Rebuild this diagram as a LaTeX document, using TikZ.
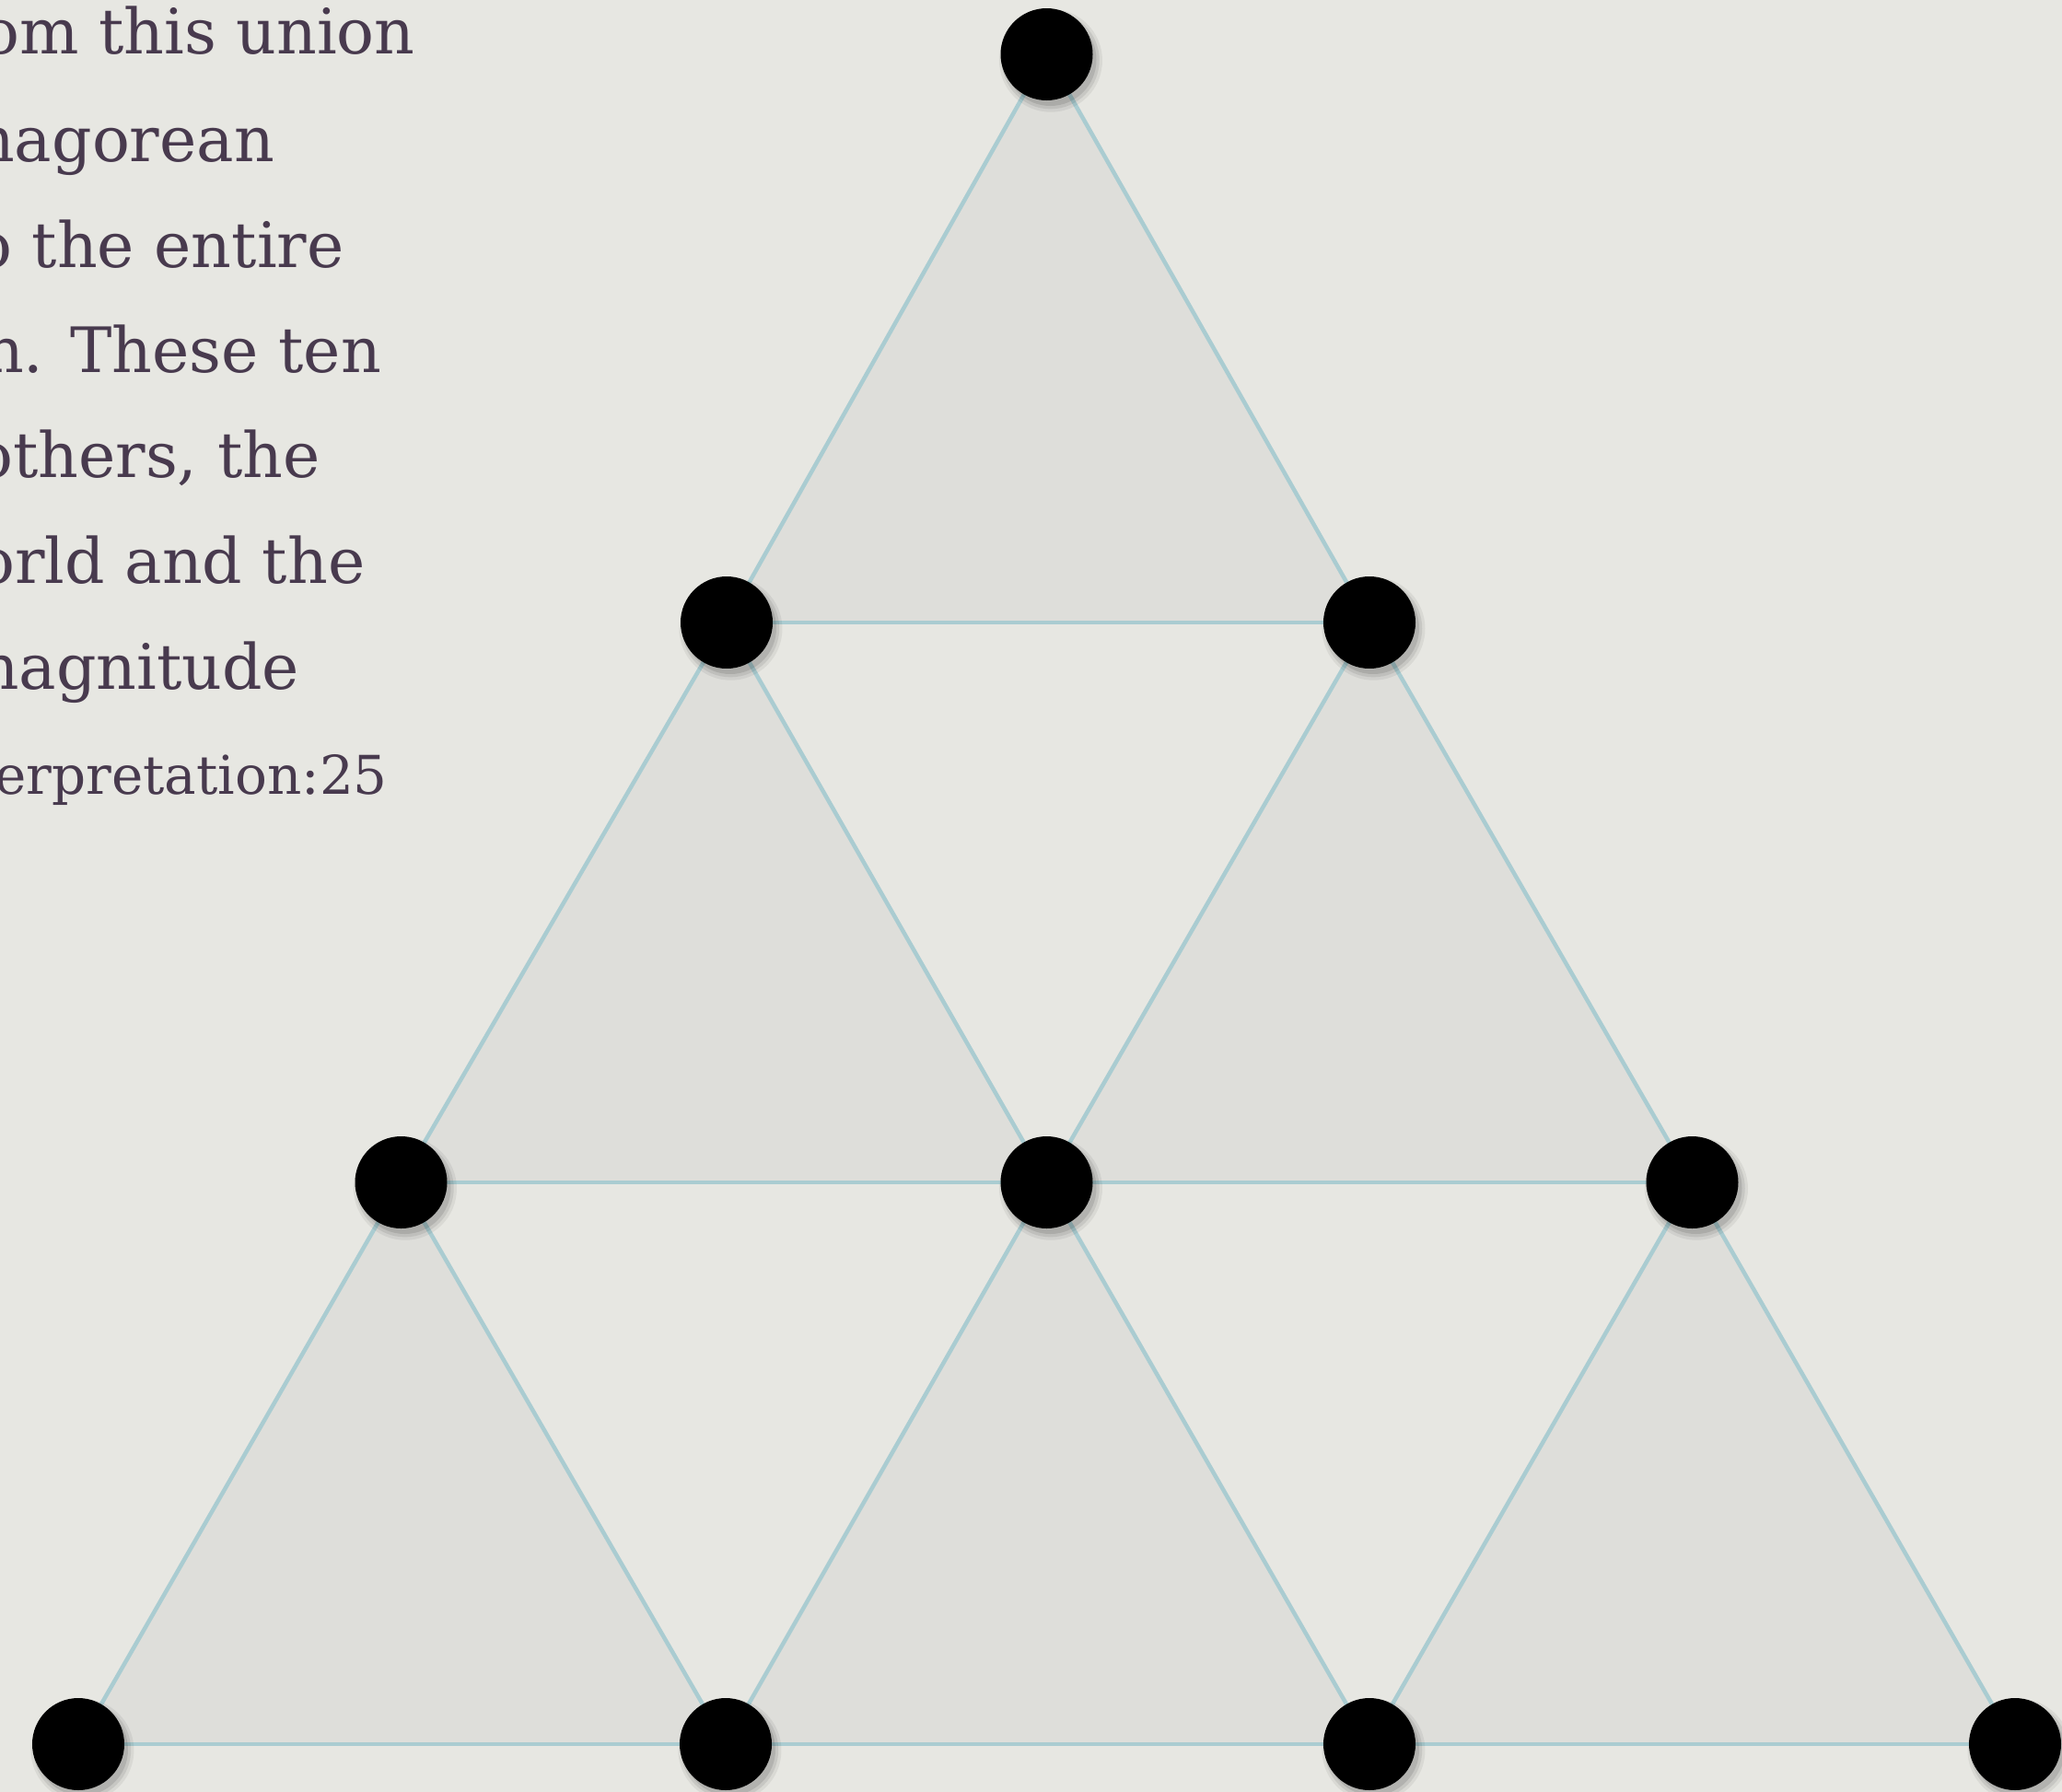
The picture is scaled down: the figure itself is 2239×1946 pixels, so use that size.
\documentclass[tikz,border=0pt]{standalone}
\usepackage{fontspec}
\setmainfont{DejaVu Serif}
\usetikzlibrary{shadows,backgrounds}
\definecolor{paper}{RGB}{231,231,226}
\definecolor{trifill}{RGB}{222,222,218}
\definecolor{edgeblue}{RGB}{170,204,209}
\definecolor{inkpurple}{RGB}{72,58,78}
\tikzset{
  dot/.style={circle, fill=black, minimum size=100pt, inner sep=0pt,
    drop shadow={shadow xshift=4pt, shadow yshift=-6pt, shadow scale=1.12, opacity=0.06, fill=black},
    drop shadow={shadow xshift=4pt, shadow yshift=-6pt, shadow scale=1.06, opacity=0.08, fill=black},
    drop shadow={shadow xshift=4pt, shadow yshift=-6pt, shadow scale=1.0, opacity=0.10, fill=black}},
  edgeline/.style={draw=edgeblue, line width=4.5pt},
  upfill/.style={fill=trifill},
  bodytext/.style={anchor=base west, inner sep=0pt, text=inkpurple,
    font=\fontsize{68}{115}\selectfont},
  smalltext/.style={bodytext, font=\fontsize{58}{100}\selectfont}
}
\begin{document}
\begin{tikzpicture}[x=1pt,y=1pt]
\useasboundingbox (0,0) rectangle (2239,-1946);
% dots
\node[dot] (r1)  at (1136.5,-59) {};
\node[dot] (r2a) at (789,-676) {};
\node[dot] (r2b) at (1487,-676) {};
\node[dot] (r3a) at (435.5,-1284) {};
\node[dot] (r3b) at (1136.5,-1284) {};
\node[dot] (r3c) at (1837.5,-1284) {};
\node[dot] (r4a) at (85,-1894) {};
\node[dot] (r4b) at (788,-1894) {};
\node[dot] (r4c) at (1487,-1894) {};
\node[dot] (r4d) at (2188,-1894) {};
\begin{scope}[on background layer]
  \fill[paper] (0,0) rectangle (2239,-1946);
  \foreach \a/\b/\c in {r1/r2a/r2b, r2a/r3a/r3b, r2b/r3b/r3c, r3a/r4a/r4b, r3b/r4b/r4c, r3c/r4c/r4d}{
    \path[upfill] (\a.center) -- (\b.center) -- (\c.center) -- cycle;
  }
  \foreach \a/\b/\c in {r1/r2a/r2b, r2a/r3a/r3b, r2b/r3b/r3c, r3a/r4a/r4b, r3b/r4b/r4c, r3c/r4c/r4d}{
    \draw[edgeline] (\a.center) -- (\b.center);
    \draw[edgeline] (\b.center) -- (\c.center);
    \draw[edgeline] (\c.center) -- (\a.center);
  }
\end{scope}
% text
\node[bodytext] (t1) at (-20,-58)  {om this union};
\node[bodytext] (t2) at (-28,-175) {hagorean};
\node[bodytext] (t3) at (-28,-290) {o the entire};
\node[bodytext] (t4) at (-18,-404) {n. These ten};
\node[bodytext] (t5) at (-27,-518) {others, the};
\node[bodytext] (t6) at (-25,-633) {orld and the};
\node[bodytext] (t7) at (-44,-748) {magnitude};
\node[smalltext] (t8) at (-6,-862) {erpretation:25};
\end{tikzpicture}
\end{document}
